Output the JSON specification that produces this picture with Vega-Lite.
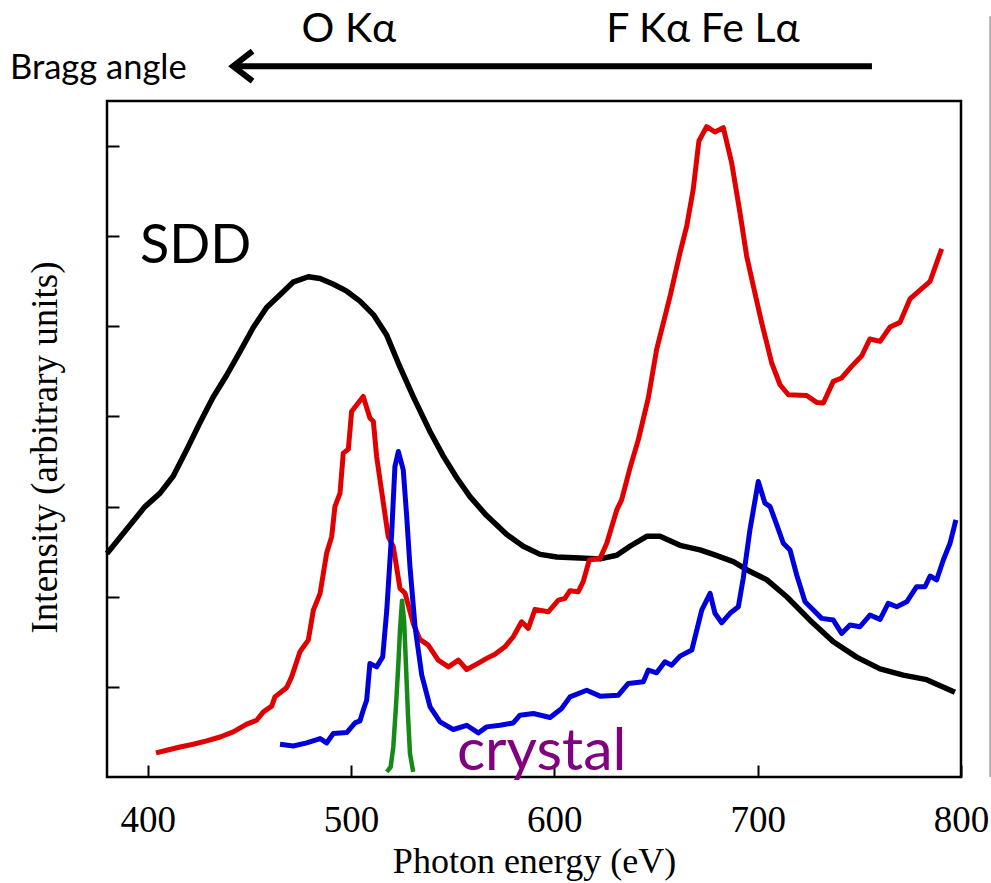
{
  "$schema": "https://vega.github.io/schema/vega-lite/v6.json",
  "width": 854,
  "height": 676,
  "autosize": {"type": "none"},
  "padding": {"left": 107, "top": 101, "right": 30, "bottom": 106},
  "background": "white",
  "config": {"view": {"stroke": "#000", "strokeWidth": 2.5}},
  "datasets": {
    "sdd": [
      {"energy": 380, "intensity": 2.48}, {"energy": 398.7, "intensity": 3.0}, {"energy": 406.1, "intensity": 3.15},
      {"energy": 412.6, "intensity": 3.34}, {"energy": 419.2, "intensity": 3.63}, {"energy": 425.7, "intensity": 3.93},
      {"energy": 432.1, "intensity": 4.21}, {"energy": 438.9, "intensity": 4.46}, {"energy": 445.4, "intensity": 4.72},
      {"energy": 452.0, "intensity": 4.99}, {"energy": 458.5, "intensity": 5.21}, {"energy": 465.1, "intensity": 5.35},
      {"energy": 471.5, "intensity": 5.49}, {"energy": 479.0, "intensity": 5.55}, {"energy": 484.8, "intensity": 5.53},
      {"energy": 491.1, "intensity": 5.47}, {"energy": 497.9, "intensity": 5.39}, {"energy": 504.4, "intensity": 5.28},
      {"energy": 511.0, "intensity": 5.13}, {"energy": 517.6, "intensity": 4.9}, {"energy": 523.3, "intensity": 4.59},
      {"energy": 530.6, "intensity": 4.22}, {"energy": 538.9, "intensity": 3.83}, {"energy": 545.4, "intensity": 3.56},
      {"energy": 552.0, "intensity": 3.32}, {"energy": 558.5, "intensity": 3.11}, {"energy": 566.7, "intensity": 2.9},
      {"energy": 576.6, "intensity": 2.69}, {"energy": 584.7, "intensity": 2.56}, {"energy": 593.0, "intensity": 2.47},
      {"energy": 601.2, "intensity": 2.44}, {"energy": 612.6, "intensity": 2.43}, {"energy": 622.5, "intensity": 2.42},
      {"energy": 630.7, "intensity": 2.46}, {"energy": 637.2, "intensity": 2.56}, {"energy": 645.4, "intensity": 2.67},
      {"energy": 652.0, "intensity": 2.67}, {"energy": 661.8, "intensity": 2.57}, {"energy": 671.6, "intensity": 2.52},
      {"energy": 678.2, "intensity": 2.47}, {"energy": 688.0, "intensity": 2.39}, {"energy": 694.6, "intensity": 2.3},
      {"energy": 704.4, "intensity": 2.19}, {"energy": 714.3, "intensity": 2.0}, {"energy": 725.7, "intensity": 1.74},
      {"energy": 737.2, "intensity": 1.5}, {"energy": 748.7, "intensity": 1.33}, {"energy": 760.2, "intensity": 1.2},
      {"energy": 771.6, "intensity": 1.13}, {"energy": 783.1, "intensity": 1.08}, {"energy": 797.0, "intensity": 0.94}
    ],
    "red": [
      {"energy": 404.1, "intensity": 0.267}, {"energy": 409.4, "intensity": 0.297}, {"energy": 415.9, "intensity": 0.333},
      {"energy": 422.4, "intensity": 0.363}, {"energy": 429.0, "intensity": 0.4}, {"energy": 435.6, "intensity": 0.444},
      {"energy": 442.1, "intensity": 0.5}, {"energy": 448.7, "intensity": 0.586}, {"energy": 453.6, "intensity": 0.63},
      {"energy": 456.9, "intensity": 0.722}, {"energy": 461.0, "intensity": 0.786}, {"energy": 462.6, "intensity": 0.889},
      {"energy": 468.4, "intensity": 0.993}, {"energy": 470.8, "intensity": 1.111}, {"energy": 474.9, "intensity": 1.389},
      {"energy": 479.0, "intensity": 1.519}, {"energy": 481.5, "intensity": 1.852}, {"energy": 484.8, "intensity": 2.038},
      {"energy": 488.0, "intensity": 2.482}, {"energy": 490.5, "intensity": 2.667}, {"energy": 492.1, "intensity": 3.0},
      {"energy": 494.6, "intensity": 3.149}, {"energy": 496.2, "intensity": 3.593}, {"energy": 498.7, "intensity": 3.638},
      {"energy": 500.3, "intensity": 4.056}, {"energy": 506.0, "intensity": 4.222}, {"energy": 509.3, "intensity": 3.982},
      {"energy": 511.0, "intensity": 3.944}, {"energy": 512.6, "intensity": 3.556}, {"energy": 518.3, "intensity": 2.667},
      {"energy": 520.8, "intensity": 2.556}, {"energy": 524.1, "intensity": 2.093}, {"energy": 526.6, "intensity": 2.038},
      {"energy": 530.6, "intensity": 1.704}, {"energy": 533.9, "intensity": 1.527}, {"energy": 538.0, "intensity": 1.463},
      {"energy": 542.9, "intensity": 1.297}, {"energy": 547.9, "intensity": 1.222}, {"energy": 552.8, "intensity": 1.297},
      {"energy": 556.9, "intensity": 1.193}, {"energy": 561.8, "intensity": 1.252}, {"energy": 566.7, "intensity": 1.316},
      {"energy": 570.8, "intensity": 1.363}, {"energy": 575.7, "intensity": 1.444}, {"energy": 579.8, "intensity": 1.556},
      {"energy": 583.9, "intensity": 1.722}, {"energy": 587.2, "intensity": 1.649}, {"energy": 590.5, "intensity": 1.86},
      {"energy": 597.0, "intensity": 1.833}, {"energy": 602.0, "intensity": 1.963}, {"energy": 605.2, "intensity": 1.982},
      {"energy": 607.7, "intensity": 2.067}, {"energy": 611.8, "intensity": 2.056}, {"energy": 614.2, "intensity": 2.167},
      {"energy": 617.2, "intensity": 2.408}, {"energy": 622.5, "intensity": 2.427}, {"energy": 625.8, "intensity": 2.593},
      {"energy": 630.7, "intensity": 2.963}, {"energy": 633.1, "intensity": 3.074}, {"energy": 637.2, "intensity": 3.427},
      {"energy": 641.3, "intensity": 3.741}, {"energy": 646.2, "intensity": 4.204}, {"energy": 650.3, "intensity": 4.741},
      {"energy": 656.9, "intensity": 5.333}, {"energy": 661.8, "intensity": 5.816}, {"energy": 665.1, "intensity": 6.111},
      {"energy": 668.3, "intensity": 6.519}, {"energy": 671.1, "intensity": 7.056}, {"energy": 674.9, "intensity": 7.216},
      {"energy": 679.0, "intensity": 7.156}, {"energy": 683.1, "intensity": 7.204}, {"energy": 687.2, "intensity": 6.816},
      {"energy": 691.3, "intensity": 6.26}, {"energy": 694.6, "intensity": 5.778}, {"energy": 697.9, "intensity": 5.444},
      {"energy": 702.0, "intensity": 5.038}, {"energy": 706.9, "intensity": 4.593}, {"energy": 711.0, "intensity": 4.352},
      {"energy": 715.1, "intensity": 4.241}, {"energy": 724.1, "intensity": 4.233}, {"energy": 729.0, "intensity": 4.156},
      {"energy": 732.3, "intensity": 4.149}, {"energy": 737.2, "intensity": 4.389}, {"energy": 741.3, "intensity": 4.427},
      {"energy": 746.2, "intensity": 4.556}, {"energy": 751.2, "intensity": 4.674}, {"energy": 755.2, "intensity": 4.86},
      {"energy": 760.2, "intensity": 4.833}, {"energy": 765.1, "intensity": 4.993}, {"energy": 770.0, "intensity": 5.044},
      {"energy": 774.9, "intensity": 5.304}, {"energy": 784.8, "intensity": 5.5}, {"energy": 790.5, "intensity": 5.86}
    ],
    "blue": [
      {"energy": 465.1, "intensity": 0.363}, {"energy": 471.6, "intensity": 0.344}, {"energy": 478.2, "intensity": 0.378},
      {"energy": 484.8, "intensity": 0.427}, {"energy": 488.0, "intensity": 0.378}, {"energy": 491.3, "intensity": 0.482},
      {"energy": 497.9, "intensity": 0.493}, {"energy": 502.0, "intensity": 0.6}, {"energy": 504.4, "intensity": 0.622},
      {"energy": 506.0, "intensity": 0.741}, {"energy": 507.7, "intensity": 0.852}, {"energy": 509.3, "intensity": 1.26},
      {"energy": 512.6, "intensity": 1.222}, {"energy": 515.6, "intensity": 1.333}, {"energy": 517.6, "intensity": 1.852},
      {"energy": 520.0, "intensity": 2.704}, {"energy": 521.6, "intensity": 3.444}, {"energy": 523.3, "intensity": 3.611},
      {"energy": 525.7, "intensity": 3.408}, {"energy": 527.4, "intensity": 2.889}, {"energy": 529.0, "intensity": 2.333},
      {"energy": 531.5, "intensity": 1.667}, {"energy": 534.8, "intensity": 1.13}, {"energy": 538.9, "intensity": 0.778},
      {"energy": 543.8, "intensity": 0.611}, {"energy": 550.3, "intensity": 0.527}, {"energy": 556.9, "intensity": 0.574},
      {"energy": 562.6, "intensity": 0.489}, {"energy": 566.7, "intensity": 0.556}, {"energy": 573.3, "intensity": 0.574},
      {"energy": 579.8, "intensity": 0.6}, {"energy": 583.1, "intensity": 0.686}, {"energy": 589.7, "intensity": 0.704},
      {"energy": 597.9, "intensity": 0.66}, {"energy": 603.6, "intensity": 0.76}, {"energy": 607.7, "intensity": 0.889},
      {"energy": 615.9, "intensity": 0.963}, {"energy": 622.5, "intensity": 0.897}, {"energy": 631.5, "intensity": 0.908},
      {"energy": 636.4, "intensity": 1.038}, {"energy": 643.8, "intensity": 1.056}, {"energy": 646.2, "intensity": 1.186},
      {"energy": 650.3, "intensity": 1.156}, {"energy": 654.4, "intensity": 1.278}, {"energy": 657.7, "intensity": 1.241},
      {"energy": 661.8, "intensity": 1.341}, {"energy": 667.6, "intensity": 1.408}, {"energy": 672.5, "intensity": 1.852},
      {"energy": 676.6, "intensity": 2.038}, {"energy": 679.0, "intensity": 1.816}, {"energy": 682.3, "intensity": 1.711},
      {"energy": 686.4, "intensity": 1.816}, {"energy": 690.5, "intensity": 1.889}, {"energy": 692.9, "intensity": 2.204},
      {"energy": 696.2, "intensity": 2.741}, {"energy": 700.3, "intensity": 3.278}, {"energy": 703.6, "intensity": 3.038},
      {"energy": 706.1, "intensity": 3.0}, {"energy": 709.4, "intensity": 2.797}, {"energy": 712.6, "intensity": 2.593},
      {"energy": 715.9, "intensity": 2.519}, {"energy": 719.2, "intensity": 2.241}, {"energy": 723.3, "intensity": 1.944},
      {"energy": 727.4, "intensity": 1.852}, {"energy": 731.5, "intensity": 1.76}, {"energy": 737.2, "intensity": 1.741},
      {"energy": 741.3, "intensity": 1.593}, {"energy": 745.4, "intensity": 1.686}, {"energy": 750.3, "intensity": 1.667},
      {"energy": 755.2, "intensity": 1.797}, {"energy": 760.2, "intensity": 1.749}, {"energy": 764.2, "intensity": 1.927},
      {"energy": 768.4, "intensity": 1.889}, {"energy": 773.3, "intensity": 1.944}, {"energy": 778.2, "intensity": 2.111},
      {"energy": 782.3, "intensity": 2.111}, {"energy": 784.8, "intensity": 2.23}, {"energy": 788.0, "intensity": 2.186},
      {"energy": 791.3, "intensity": 2.408}, {"energy": 794.6, "intensity": 2.593}, {"energy": 797.5, "intensity": 2.852}
    ],
    "green": [
      {"energy": 517.6, "intensity": 0.056}, {"energy": 519.5, "intensity": 0.111}, {"energy": 520.8, "intensity": 0.333},
      {"energy": 522.1, "intensity": 0.778}, {"energy": 523.3, "intensity": 1.26}, {"energy": 524.1, "intensity": 1.63},
      {"energy": 525.1, "intensity": 1.956}, {"energy": 526.1, "intensity": 1.741}, {"energy": 527.0, "intensity": 1.26},
      {"energy": 528.0, "intensity": 0.704}, {"energy": 529.0, "intensity": 0.259}, {"energy": 530.6, "intensity": 0.056}
    ]
  },
  "encoding": {
    "x": {
      "field": "energy", "type": "quantitative",
      "scale": {"domain": [380, 800], "nice": false, "zero": false},
      "axis": {
        "title": "Photon energy (eV)", "values": [400, 500, 600, 700, 800],
        "domain": false, "grid": false, "tickSize": -12, "tickWidth": 2, "tickColor": "#000",
        "labelFont": "Liberation Serif", "labelFontSize": 37, "labelColor": "#000",
        "labelPadding": 66, "labelBaseline": "alphabetic", "labelFlush": false, "labelOverlap": false,
        "titleFont": "Liberation Serif", "titleFontSize": 36, "titleFontWeight": "normal", "titleColor": "#000",
        "titleBaseline": "alphabetic", "titleY": 95
      }
    },
    "y": {
      "field": "intensity", "type": "quantitative",
      "scale": {"domain": [0, 7.5], "nice": false, "zero": false},
      "axis": {
        "title": "Intensity (arbitrary units)", "values": [1, 2, 3, 4, 5, 6, 7],
        "domain": false, "grid": false, "labels": false, "tickSize": -12, "tickWidth": 2, "tickColor": "#000",
        "titleFont": "Liberation Serif", "titleFontSize": 37, "titleFontWeight": "normal", "titleColor": "#000",
        "titleAngle": 270, "titleBaseline": "middle", "titleAlign": "center", "titleX": -62, "titleY": 346
      }
    }
  },
  "layer": [
    {
      "data": {"values": [{"energy": 814.3, "intensity": 0, "intensity2": 8.44}]},
      "mark": {"type": "rule", "color": "#a0a0a0", "strokeWidth": 1.5},
      "encoding": {"y2": {"field": "intensity2"}}
    },
    {
      "data": {"name": "sdd"},
      "mark": {"type": "line", "color": "#000", "strokeWidth": 5.5, "strokeJoin": "round"},
      "encoding": {}
    },
    {
      "data": {"name": "red"},
      "mark": {"type": "line", "color": "#e00000", "strokeWidth": 5, "strokeJoin": "round"},
      "encoding": {}
    },
    {
      "data": {"name": "blue"},
      "mark": {"type": "line", "color": "#0000dd", "strokeWidth": 5, "strokeJoin": "round"},
      "encoding": {}
    },
    {
      "data": {"name": "green"},
      "mark": {"type": "line", "color": "#168a16", "strokeWidth": 4.5, "strokeJoin": "round"},
      "encoding": {}
    },
    {
      "data": {"values": [{"energy": 443, "energy2": 756.2, "intensity": 7.886}]},
      "mark": {"type": "rule", "color": "#000", "strokeWidth": 6},
      "encoding": {"x2": {"field": "energy2"}}
    },
    {
      "data": {"values": [{"energy": 442, "intensity": 7.886}]},
      "mark": {"type": "point", "shape": "M1.3,-1L0,0L1.3,1", "size": 900, "filled": false, "stroke": "#000", "strokeWidth": 6, "strokeJoin": "miter", "opacity": 1},
      "encoding": {}
    },
    {
      "data": {"values": [{"energy": 499, "intensity": 8.16, "label": "O Kα"}, {"energy": 673.1, "intensity": 8.16, "label": "F Kα Fe Lα"}]},
      "mark": {"type": "text", "font": "Lato", "fontSize": 41, "color": "#000", "align": "center", "baseline": "alphabetic"},
      "encoding": {"text": {"field": "label"}}
    },
    {
      "data": {"values": [{"energy": 332.3, "intensity": 7.74, "label": "Bragg angle"}]},
      "mark": {"type": "text", "font": "Lato", "fontSize": 34.5, "color": "#000", "align": "left", "baseline": "alphabetic"},
      "encoding": {"text": {"field": "label"}}
    },
    {
      "data": {"values": [{"energy": 396.2, "intensity": 5.7, "label": "SDD"}]},
      "mark": {"type": "text", "font": "Lato", "fontSize": 54, "color": "#000", "align": "left", "baseline": "alphabetic"},
      "encoding": {"text": {"field": "label"}}
    },
    {
      "data": {"values": [{"energy": 552.1, "intensity": 0.074, "label": "crystal"}]},
      "mark": {"type": "text", "font": "Lato", "fontSize": 59, "color": "#800080", "align": "left", "baseline": "alphabetic"},
      "encoding": {"text": {"field": "label"}}
    }
  ]
}
